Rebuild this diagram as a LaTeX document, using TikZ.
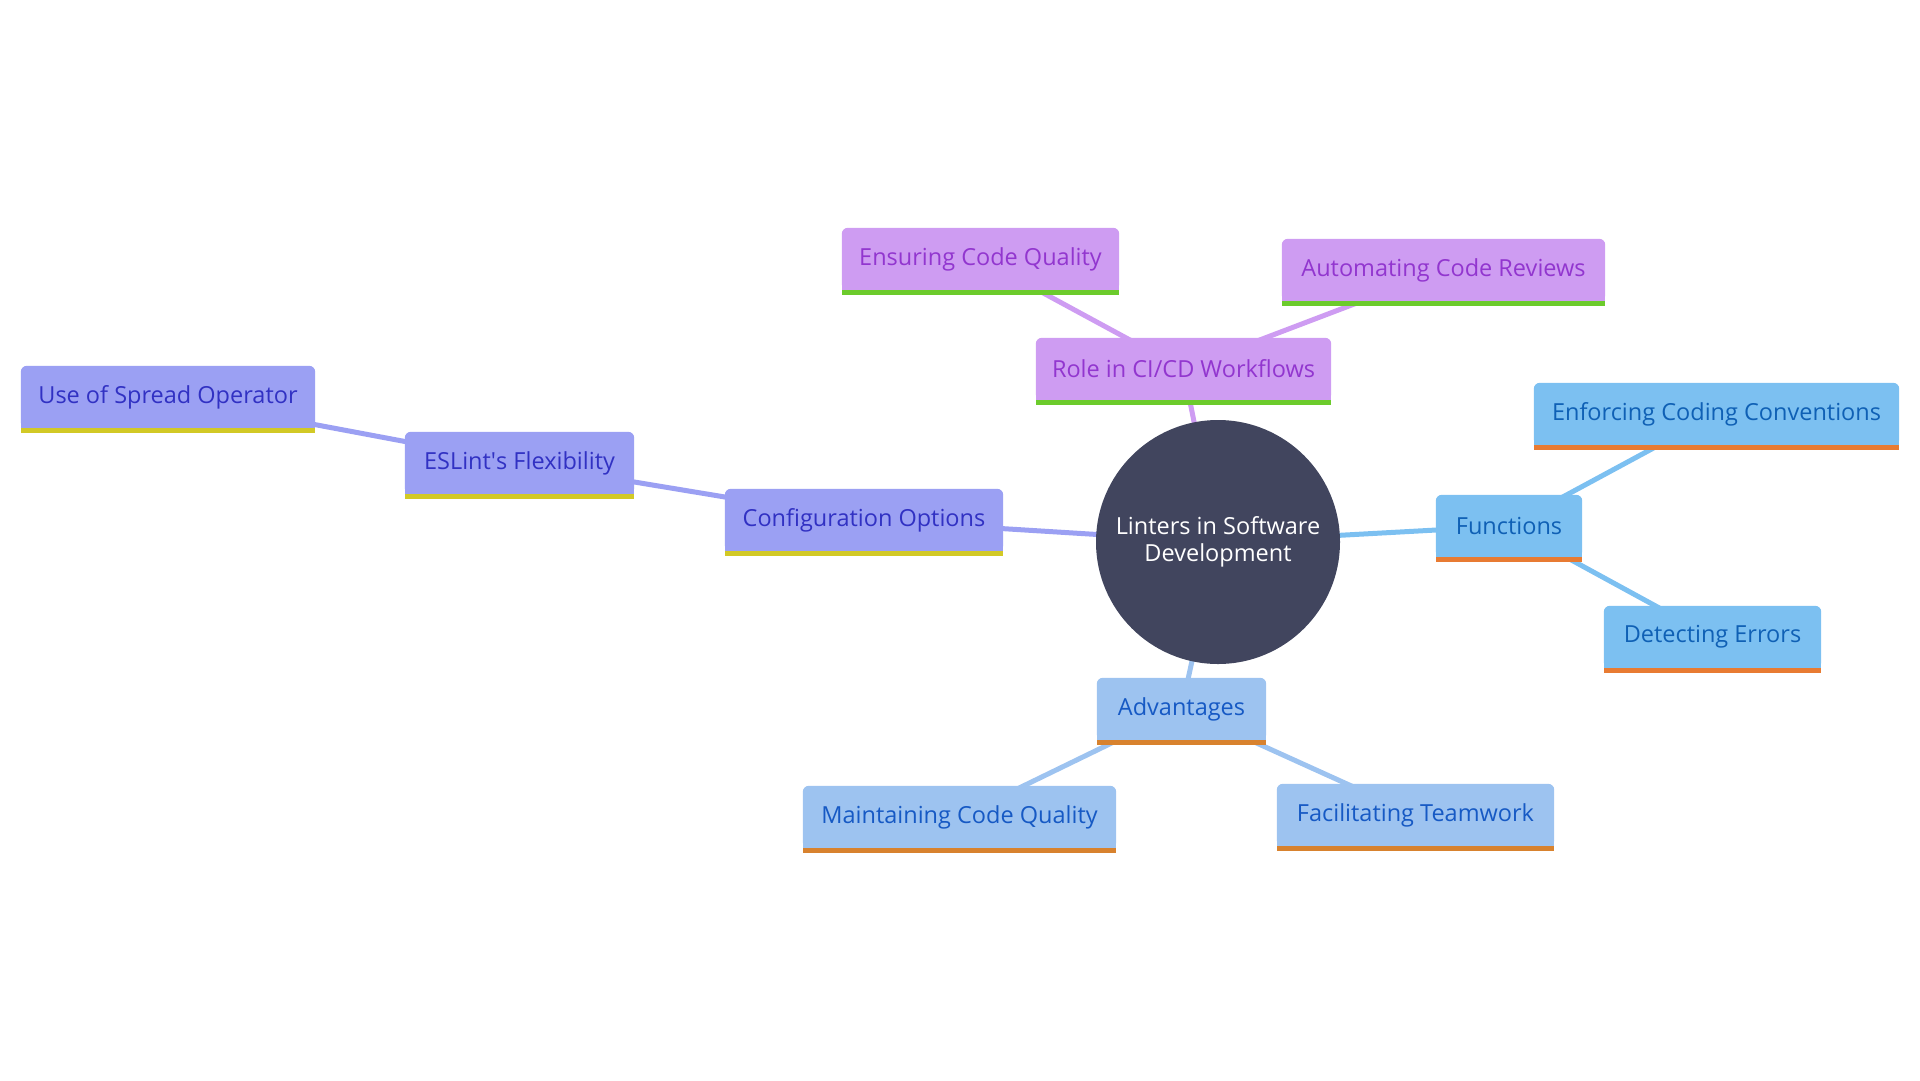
\documentclass[tikz,border=0pt]{standalone}
\usepackage{fontspec}
\setmainfont{Open Sans}
\usetikzlibrary{backgrounds}
\definecolor{purF}{HTML}{CE9CF2}\definecolor{purT}{HTML}{9236CF}\definecolor{purB}{HTML}{6CCB2C}
\definecolor{vioF}{HTML}{9BA0F3}\definecolor{vioT}{HTML}{3131C3}\definecolor{vioB}{HTML}{D2C926}
\definecolor{bluF}{HTML}{7CC0F1}\definecolor{bluT}{HTML}{0F60B5}\definecolor{bluB}{HTML}{E87B32}
\definecolor{advF}{HTML}{9DC3F0}\definecolor{advT}{HTML}{1659C4}\definecolor{advB}{HTML}{D8822E}
\definecolor{ctrF}{HTML}{41455E}
\begin{document}
\begin{tikzpicture}[x=1pt,y=-1pt,
  box/.style={inner sep=0pt, minimum height=62pt, font=\fontsize{23.5}{27}\selectfont, align=center},
  hub/.style={circle, fill=ctrF, minimum size=244pt, inner sep=0pt, text=white, align=center, font=\fontsize{23.5}{26.5}\selectfont},
  link/.style={line width=5pt}]
\useasboundingbox (0,0) rectangle (1920,1080);
% nodes
\node[hub] (c) at (1218,542) {Linters in Software\\Development};
\node[box, text=purT, minimum width=277pt] (ens) at (980.5,259) {Ensuring Code Quality};
\node[box, text=purT, minimum width=323pt] (aut) at (1443.5,270) {Automating Code Reviews};
\node[box, text=purT, minimum width=295pt] (rol) at (1183.5,369) {Role in CI/CD Workflows};
\node[box, text=bluT, minimum width=146pt] (fun) at (1509,526) {Functions};
\node[box, text=bluT, minimum width=365pt] (enf) at (1716.5,414) {Enforcing Coding Conventions};
\node[box, text=bluT, minimum width=217pt] (det) at (1712.5,637) {Detecting Errors};
\node[box, text=advT, minimum width=169pt] (adv) at (1181.5,709) {Advantages};
\node[box, text=advT, minimum width=313pt] (mai) at (959.5,817) {Maintaining Code Quality};
\node[box, text=advT, minimum width=277pt] (fac) at (1415.5,815) {Facilitating Teamwork};
\node[box, text=vioT, minimum width=278pt] (cfg) at (864,520) {Configuration Options};
\node[box, text=vioT, minimum width=229pt] (esl) at (519.5,463) {ESLint\textquotesingle s Flexibility};
\node[box, text=vioT, minimum width=294pt] (spr) at (168,397) {Use of Spread Operator};
\begin{scope}[on background layer]
  % connectors
  \draw[link, purF] (c.center) -- (rol.center);
  \draw[link, purF] (rol.center) -- (ens.center);
  \draw[link, purF] (rol.center) -- (aut.center);
  \draw[link, bluF] (c.center) -- (fun.center);
  \draw[link, bluF] (fun.center) -- (enf.center);
  \draw[link, bluF] (fun.center) -- (det.center);
  \draw[link, advF] (c.center) -- (adv.center);
  \draw[link, advF] (adv.center) -- (mai.center);
  \draw[link, advF] (adv.center) -- (fac.center);
  \draw[link, vioF] (c.center) -- (cfg.center);
  \draw[link, vioF] (cfg.center) -- (esl.center);
  \draw[link, vioF] (esl.center) -- (spr.center);
  % box fills and bottom bars
  \foreach \n/\f/\b in {ens/purF/purB, aut/purF/purB, rol/purF/purB,
      fun/bluF/bluB, enf/bluF/bluB, det/bluF/bluB,
      adv/advF/advB, mai/advF/advB, fac/advF/advB,
      cfg/vioF/vioB, esl/vioF/vioB, spr/vioF/vioB} {
    \fill[\f, rounded corners=6pt] (\n.north west) rectangle (\n.south east);
    \fill[\f] ([yshift=12pt]\n.south west) rectangle (\n.south east);
    \fill[\b] (\n.south west) rectangle ([yshift=-5pt]\n.south east);
  }
\end{scope}
\end{tikzpicture}
\end{document}
